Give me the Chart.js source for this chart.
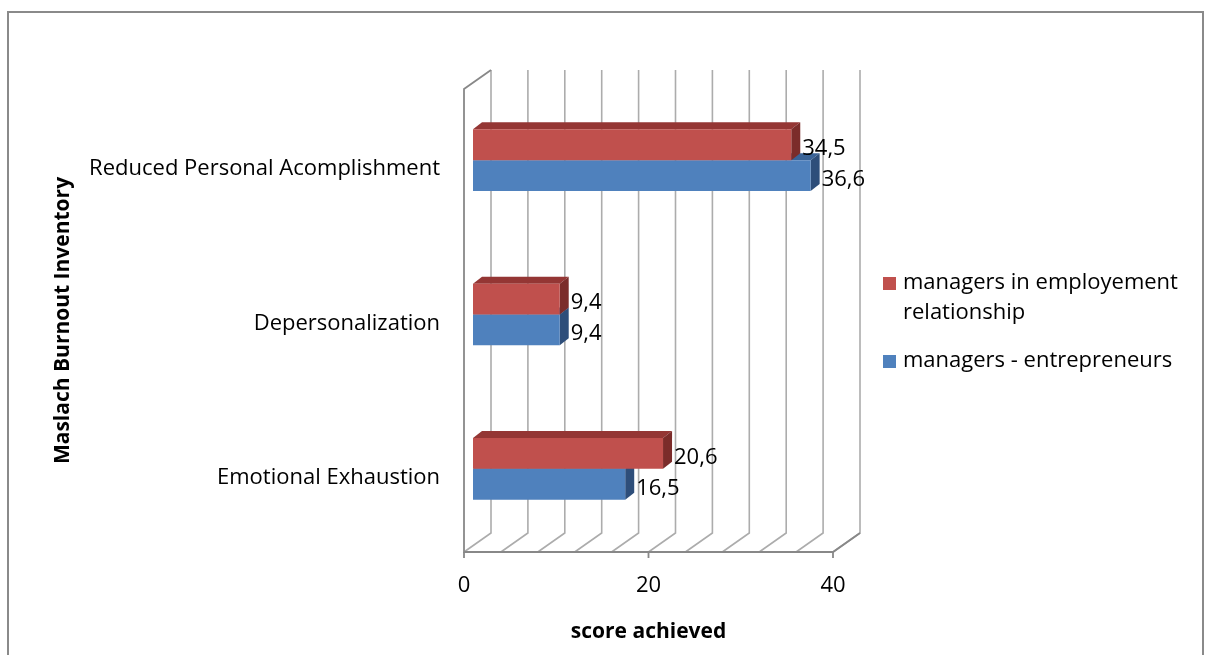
<!DOCTYPE html>
<html>
<head>
<meta charset="utf-8">
<script src="https://cdn.jsdelivr.net/npm/chart.js@4/dist/chart.umd.min.js"></script>
<style>
  html, body { margin: 0; padding: 0; background: #fff; }
  #wrap { width: 1205px; height: 655px; }
</style>
</head>
<body>
<div id="wrap"><canvas id="mbiChart" width="1205" height="655"></canvas></div>
<script>
// Maslach Burnout Inventory - average scores per group
const categories = ['Reduced Personal Acomplishment', 'Depersonalization', 'Emotional Exhaustion'];
const employedValues = [34.5, 9.4, 20.6];
const entrepreneurValues = [36.6, 9.4, 16.5];
const seriesNames = ['managers in employement relationship', 'managers - entrepreneurs'];
const labeledTicks = [0, 20, 40];

const FONT = '"Open Sans", sans-serif';
const WALL = { dx: 27, dy: -19 };          // depth of the back wall
const BAR = { sx: 9, sy: -6, dx: 9, dy: -7 }; // bar position in depth + bar thickness

const shades = [
    { front: '#C0504D', top: '#943634', side: '#7B2C2A' },
    { front: '#4F81BD', top: '#3A6397', side: '#2E4E7A' }
];

function fmt(v) {
    return v.toFixed(1).replace('.', ',');
}

// Frame, walls, floor and the 3D bar faces
const depthPlugin = {
    id: 'depth3d',
    beforeDraw(chart) {
        const ctx = chart.ctx;
        ctx.save();
        ctx.fillStyle = '#fff';
        ctx.fillRect(0, 0, chart.width, chart.height);
        ctx.strokeStyle = '#8a8a8a';
        ctx.lineWidth = 2;
        ctx.strokeRect(8, 12, 1195, 700);
        ctx.restore();
    },
    beforeDatasetsDraw(chart) {
        const { ctx, chartArea: a, scales: { x } } = chart;
        ctx.save();
        ctx.lineWidth = 1.6;
        ctx.strokeStyle = '#acacac';
        x.ticks.forEach(t => {
            const px = x.getPixelForValue(t.value);
            ctx.beginPath();
            ctx.moveTo(px + WALL.dx, a.top + WALL.dy);
            ctx.lineTo(px + WALL.dx, a.bottom + WALL.dy);
            ctx.lineTo(px, a.bottom);
            ctx.stroke();
        });
        // side wall and front edges
        ctx.strokeStyle = '#888888';
        ctx.lineWidth = 1.8;
        ctx.beginPath();
        ctx.moveTo(a.left + WALL.dx, a.top + WALL.dy);
        ctx.lineTo(a.left, a.top);
        ctx.lineTo(a.left, a.bottom);
        ctx.lineTo(a.right, a.bottom);
        ctx.lineTo(a.right + WALL.dx, a.bottom + WALL.dy);
        ctx.stroke();
        labeledTicks.forEach(v => {
            const px = x.getPixelForValue(v);
            ctx.beginPath();
            ctx.moveTo(px, a.bottom);
            ctx.lineTo(px, a.bottom + 6);
            ctx.stroke();
        });
        ctx.restore();

        // bars sit a little behind the front plane
        ctx.save();
        ctx.translate(BAR.sx, BAR.sy);
    },
    beforeDatasetDraw(chart, args) {
        const ctx = chart.ctx;
        const c = shades[args.index];
        args.meta.data.forEach(bar => {
            const { x, y, base, height } = bar.getProps(['x', 'y', 'base', 'height'], true);
            const top = y - height / 2;
            const bottom = y + height / 2;
            ctx.fillStyle = c.top;
            ctx.beginPath();
            ctx.moveTo(base, top);
            ctx.lineTo(x, top);
            ctx.lineTo(x + BAR.dx, top + BAR.dy);
            ctx.lineTo(base + BAR.dx, top + BAR.dy);
            ctx.closePath();
            ctx.fill();
            ctx.fillStyle = c.side;
            ctx.beginPath();
            ctx.moveTo(x, top);
            ctx.lineTo(x + BAR.dx, top + BAR.dy);
            ctx.lineTo(x + BAR.dx, bottom + BAR.dy);
            ctx.lineTo(x, bottom);
            ctx.closePath();
            ctx.fill();
        });
    },
    afterDatasetsDraw(chart) {
        const ctx = chart.ctx;
        ctx.restore();

        // value labels
        ctx.save();
        ctx.font = '22px ' + FONT;
        ctx.fillStyle = '#000';
        ctx.textBaseline = 'middle';
        ctx.textAlign = 'left';
        chart.data.datasets.forEach((ds, i) => {
            chart.getDatasetMeta(i).data.forEach((bar, j) => {
                ctx.fillText(fmt(ds.data[j]), bar.x + BAR.sx + 11, bar.y + BAR.sy + 4);
            });
        });
        ctx.restore();
    },
    afterDraw(chart) {
        // legend on the right, wrapped over two lines
        const ctx = chart.ctx;
        ctx.save();
        ctx.font = '22px ' + FONT;
        ctx.textBaseline = 'middle';
        const left = 883, textX = 903, maxW = 290, lineH = 30;
        let y = 283;
        chart.data.datasets.forEach((ds, i) => {
            ctx.fillStyle = shades[i].front;
            ctx.fillRect(left, y - 6, 13, 13);
            ctx.fillStyle = '#000';
            const words = ds.label.split(' ');
            let line = '';
            const lines = [];
            words.forEach(w => {
                const test = line ? line + ' ' + w : w;
                if (ctx.measureText(test).width > maxW && line) {
                    lines.push(line);
                    line = w;
                } else {
                    line = test;
                }
            });
            lines.push(line);
            lines.forEach((l, k) => ctx.fillText(l, textX, y + k * lineH));
            y += lines.length * lineH + 18;
        });
        ctx.restore();
    }
};

const ctx = document.getElementById('mbiChart').getContext('2d');
new Chart(ctx, {
    type: 'bar',
    data: {
        labels: categories,
        datasets: [
            {
                label: seriesNames[0],
                data: employedValues,
                backgroundColor: shades[0].front,
                barPercentage: 1,
                categoryPercentage: 0.4,
                clip: false
            },
            {
                label: seriesNames[1],
                data: entrepreneurValues,
                backgroundColor: shades[1].front,
                barPercentage: 1,
                categoryPercentage: 0.4,
                clip: false
            }
        ]
    },
    options: {
        indexAxis: 'y',
        responsive: false,
        animation: false,
        devicePixelRatio: 1,
        layout: { padding: { top: 89, right: 372, left: 0, bottom: 0 } },
        plugins: {
            legend: { display: false },
            tooltip: { enabled: false }
        },
        scales: {
            x: {
                min: 0,
                max: 40,
                grid: { display: false, drawTicks: false },
                border: { display: false },
                ticks: {
                    stepSize: 4,
                    autoSkip: false,
                    maxRotation: 0,
                    padding: 21,
                    color: '#000',
                    font: { family: FONT, size: 22 },
                    callback: v => (v % 20 === 0 ? v : '')
                },
                title: {
                    display: true,
                    text: 'score achieved',
                    color: '#000',
                    font: { family: FONT, size: 21, weight: 'bold' },
                    padding: { top: 0, bottom: 10 }
                },
                afterFit: s => { s.height = 103; }
            },
            y: {
                grid: { display: false, drawTicks: false },
                border: { display: false },
                ticks: {
                    padding: 24,
                    labelOffset: 3,
                    color: '#000',
                    font: { family: FONT, size: 22 }
                },
                title: {
                    display: true,
                    text: 'Maslach Burnout Inventory',
                    color: '#000',
                    font: { family: FONT, size: 21, weight: 'bold' },
                    padding: { top: 50, bottom: 0 }
                },
                afterFit: s => { s.width = 464; }
            }
        }
    },
    plugins: [depthPlugin]
});
</script>
</body>
</html>
